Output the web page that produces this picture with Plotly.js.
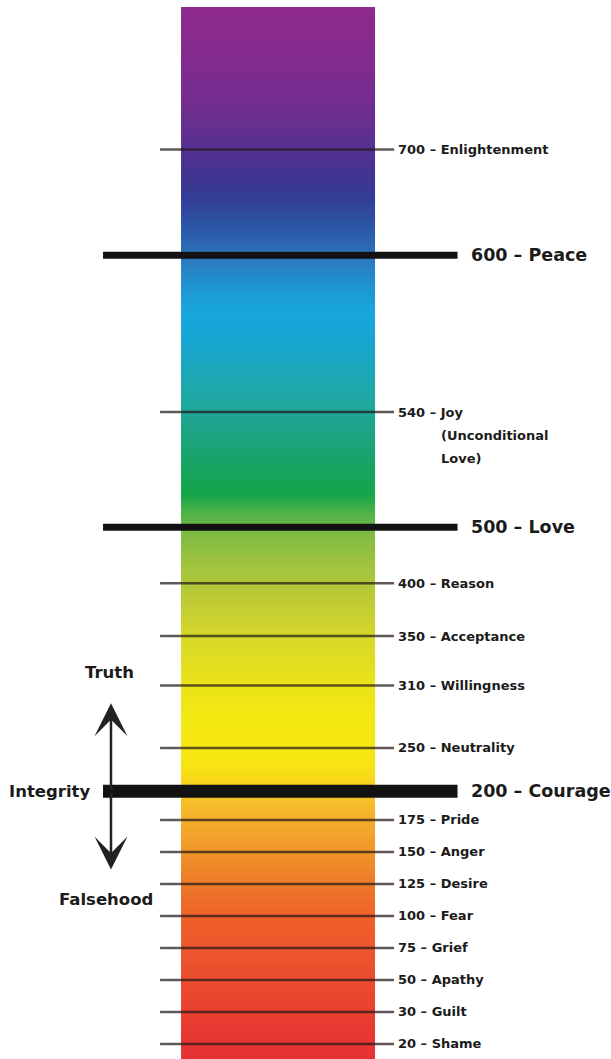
<!DOCTYPE html>
<html>
<head>
<meta charset="utf-8">
<script src="https://cdn.plot.ly/plotly-3.0.1.min.js"></script>
<style>
  html, body { margin: 0; padding: 0; background: #ffffff; }
  #chart { width: 611px; height: 1059px; }
</style>
</head>
<body>
<div id="chart"></div>
<script>
// ---------------- DATA ----------------
const levels = [20, 30, 50, 75, 100, 125, 150, 175, 200, 250, 310, 350, 400, 500, 540, 600, 700];
const levelNames = ["Shame", "Guilt", "Apathy", "Grief", "Fear", "Desire", "Anger", "Pride",
  "Courage", "Neutrality", "Willingness", "Acceptance", "Reason", "Love", "Joy", "Peace", "Enlightenment"];
const levelNotes = ["", "", "", "", "", "", "", "", "", "", "", "", "", "", "(Unconditional|Love)", "", ""];
const majorLevels = [200, 500, 600];
const upLabel = "Truth";
const centerLabel = "Integrity";
const downLabel = "Falsehood";

// ---------------- SCALE / LAYOUT ----------------
// The vertical scale is an ordinal "rung" scale: gap (in rungs) between successive levels.
const rungGaps = [1, 1, 1, 1, 1, 1, 1, 0.9, 1.35, 1.95, 1.55, 1.65, 1.75, 3.6, 4.9, 3.3];
const rungOf = (() => {
  const m = {}; let acc = 0;
  levels.forEach((v, i) => { if (i > 0) acc += rungGaps[i - 1]; m[v] = acc; });
  return v => m[v];
})();

const X_RANGE = [-0.933, 2.216];
const Y_RANGE = [-0.469, 32.625];
const BAR_BOTTOM = -0.5, BAR_TOP = 32.406;
const THIN_X = [-0.108, 1.098];
const THICK_X = [-0.402, 1.425];
const FONT = "DejaVu Sans, Arial, sans-serif";
const TEXT_COLOR = "#1b1b1b";

// gradient stops: fraction from top of bar -> colour
const gradientStops = [
  [0.000, "#8E2A8C"], [0.050, "#832B8E"], [0.088, "#742D8F"], [0.117, "#63308F"],
  [0.136, "#533190"], [0.160, "#423492"], [0.179, "#343C95"], [0.198, "#2E4C9E"],
  [0.221, "#2C62AE"], [0.242, "#2A7DC0"], [0.269, "#1E98D4"], [0.290, "#17A7DD"],
  [0.316, "#17A5D2"], [0.345, "#1BA7B8"], [0.373, "#1FA8A2"], [0.402, "#1DA385"],
  [0.435, "#18A364"], [0.463, "#14A64A"], [0.480, "#4DB247"], [0.501, "#80BC43"],
  [0.525, "#9CC23F"], [0.563, "#BDCB35"], [0.601, "#D8D928"], [0.639, "#E9E21B"],
  [0.677, "#F5E912"], [0.720, "#F7E511"], [0.739, "#F7D21E"], [0.758, "#F5BB2A"],
  [0.782, "#F3A62B"], [0.810, "#EF8E29"], [0.839, "#ED7428"], [0.867, "#EE5F2A"],
  [0.905, "#EC532E"], [0.943, "#E9452F"], [0.981, "#E63532"], [1.000, "#E53333"]
];

// ---------------- GRADIENT BAR (heatmap) ----------------
const N = 600;
const dy = (BAR_TOP - BAR_BOTTOM) / N;
const zCol = [];
for (let i = 0; i < N; i++) {
  const r = BAR_BOTTOM + dy * (i + 0.5);
  zCol.push([(BAR_TOP - r) / (BAR_TOP - BAR_BOTTOM)]);
}
const bar = {
  type: "heatmap",
  z: zCol,
  x0: 0.5, dx: 1,
  y0: BAR_BOTTOM + dy / 2, dy: dy,
  zmin: 0, zmax: 1,
  colorscale: gradientStops,
  showscale: false,
  hoverinfo: "skip",
  zsmooth: false
};

// ---------------- LEVEL LINES ----------------
const traces = [bar];
levels.forEach((v, i) => {
  const major = majorLevels.includes(v);
  const y = rungOf(v);
  traces.push({
    type: "scatter", mode: "lines",
    x: major ? THICK_X : THIN_X,
    y: [y, y],
    line: {
      color: major ? "#121212" : "rgba(35,25,25,0.72)",
      width: major ? (v === 200 ? 13 : 7) : 2.5
    },
    hoverinfo: "skip", showlegend: false
  });
});

// ---------------- ANNOTATIONS ----------------
const annotations = [];
levels.forEach((v, i) => {
  const major = majorLevels.includes(v);
  const y = rungOf(v);
  annotations.push({
    x: major ? THICK_X[1] : THIN_X[1], y: y, xref: "x", yref: "y",
    text: v + " – " + levelNames[i],
    showarrow: false, xanchor: "left", yanchor: "middle",
    xshift: major ? 11 : 2,
    font: { family: FONT, size: major ? 17.5 : 13, color: TEXT_COLOR, weight: 700 }
  });
  if (levelNotes[i]) {
    levelNotes[i].split("|").forEach((line, k) => {
      annotations.push({
        x: THIN_X[1], y: y, xref: "x", yref: "y",
        text: line, showarrow: false, xanchor: "left", yanchor: "middle",
        xshift: 45, yshift: -23 * (k + 1),
        font: { family: FONT, size: 13, color: TEXT_COLOR, weight: 700 }
      });
    });
  }
});

const integrityY = rungOf(200);
const ARROW_X = -0.361;
// up / down arrows from the Integrity line
annotations.push({
  x: ARROW_X, y: integrityY + 2.75, ax: ARROW_X, ay: integrityY,
  xref: "x", yref: "y", axref: "x", ayref: "y",
  text: "", showarrow: true, arrowhead: 3, arrowsize: 2.2, arrowwidth: 2.5, arrowcolor: "#222"
});
annotations.push({
  x: ARROW_X, y: integrityY - 2.45, ax: ARROW_X, ay: integrityY,
  xref: "x", yref: "y", axref: "x", ayref: "y",
  text: "", showarrow: true, arrowhead: 3, arrowsize: 2.2, arrowwidth: 2.5, arrowcolor: "#222"
});
annotations.push({
  x: -0.371, y: integrityY + 3.72, xref: "x", yref: "y", text: upLabel,
  showarrow: false, xanchor: "center", yanchor: "middle",
  font: { family: FONT, size: 16.5, color: TEXT_COLOR, weight: 700 }
});
annotations.push({
  x: -0.459, y: integrityY, xref: "x", yref: "y", text: centerLabel,
  showarrow: false, xanchor: "right", yanchor: "middle",
  font: { family: FONT, size: 16.5, color: TEXT_COLOR, weight: 700 }
});
annotations.push({
  x: -0.387, y: integrityY - 3.4, xref: "x", yref: "y", text: downLabel,
  showarrow: false, xanchor: "center", yanchor: "middle",
  font: { family: FONT, size: 16.5, color: TEXT_COLOR, weight: 700 }
});

const layout = {
  width: 611, height: 1059,
  margin: { l: 0, r: 0, t: 0, b: 0, pad: 0 },
  paper_bgcolor: "#ffffff", plot_bgcolor: "#ffffff",
  showlegend: false,
  xaxis: { range: X_RANGE, visible: false, fixedrange: true },
  yaxis: { range: Y_RANGE, visible: false, fixedrange: true },
  annotations: annotations
};

Plotly.newPlot("chart", traces, layout, { displayModeBar: false, staticPlot: true });
</script>
</body>
</html>
